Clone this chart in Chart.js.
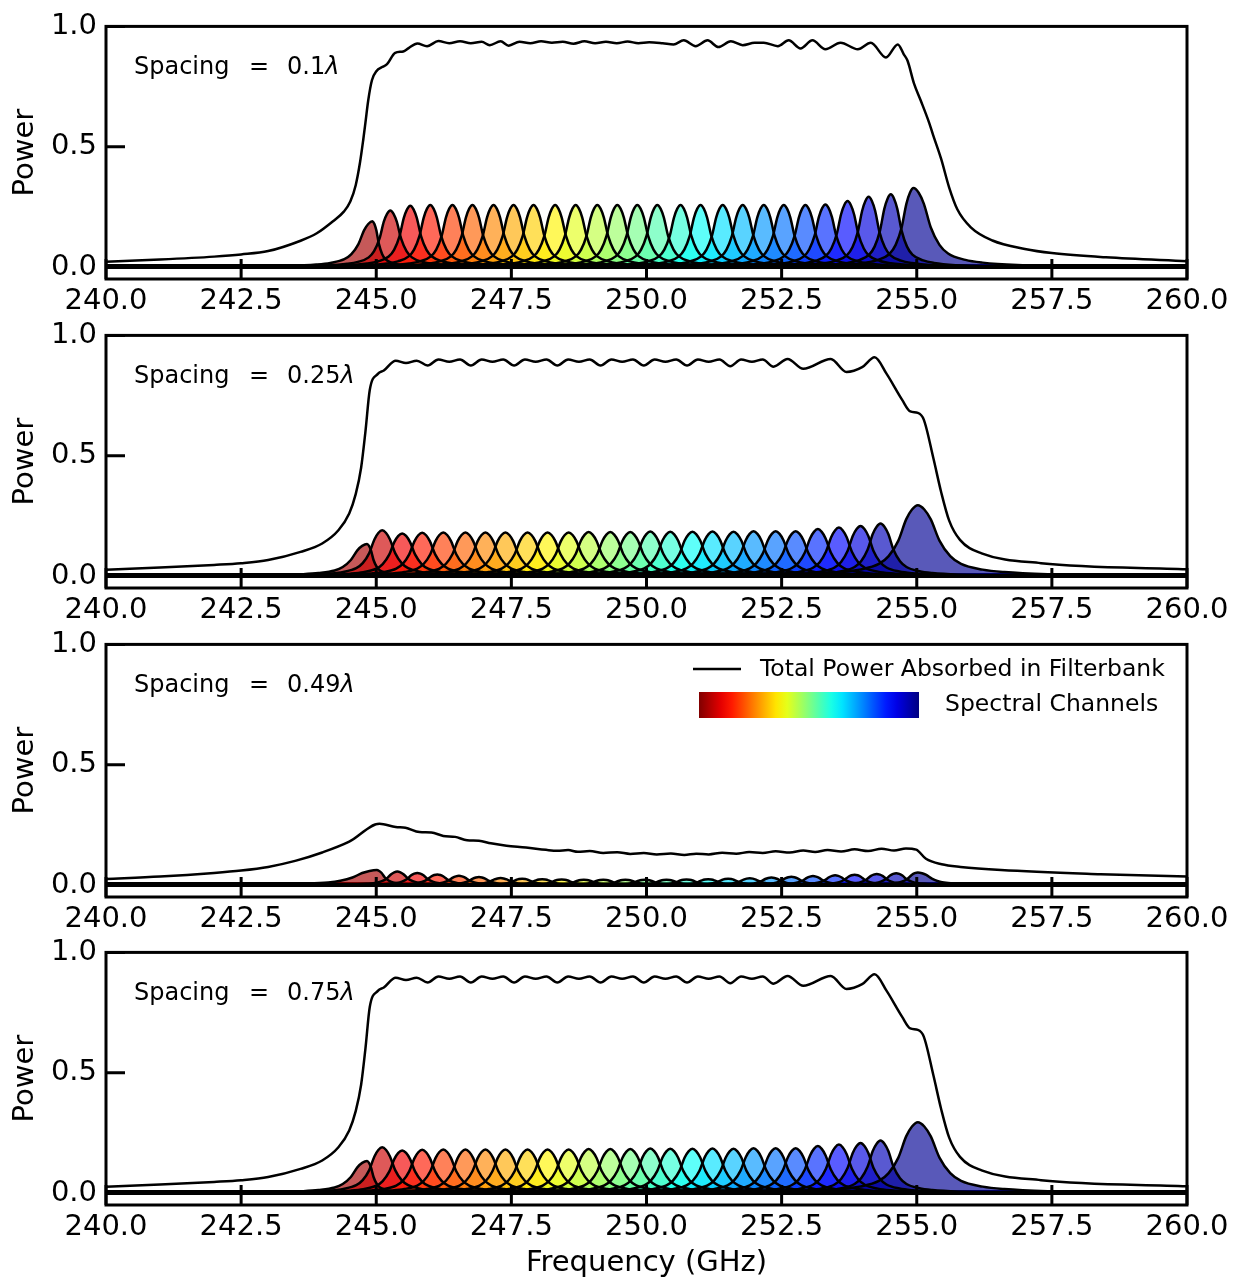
<!DOCTYPE html>
<html>
<head>
<meta charset="utf-8">
<script src="https://cdn.jsdelivr.net/npm/chart.js@4.4.1/dist/chart.umd.min.js"></script>
<style>
  html, body { margin: 0; padding: 0; background: #fff; }
  #wrap { position: relative; width: 1241px; height: 1281px; }
  canvas { position: absolute; left: 0; }
</style>
</head>
<body>
<div id="wrap">
  <canvas id="c0" width="1241" height="329" style="top:0px"></canvas>
  <canvas id="c1" width="1241" height="329" style="top:309px"></canvas>
  <canvas id="c2" width="1241" height="329" style="top:618px"></canvas>
  <canvas id="c3" width="1241" height="355" style="top:926px"></canvas>
</div>
<script>
// axis ticks
const xTickValues = [240, 242.5, 245, 247.5, 250, 252.5, 255, 257.5, 260];
const yTickValues = [0, 0.5, 1.0];
const spacingLabels = ['0.1', '0.25', '0.49', '0.75'];

// shape of one channel response, offsets in half-widths and relative level
const profileOffsets = [-120, -40, -20, -10, -6, -4, -3, -2, -1.5, -1, -0.6, -0.3, 0, 0.3, 0.6, 1, 1.5, 2, 3, 4, 6, 10, 20, 40, 120];
const profileLevels = [0.0001, 0.0006, 0.0025, 0.009, 0.025, 0.055, 0.09, 0.17, 0.28, 0.5, 0.8, 0.94, 1, 0.94, 0.8, 0.5, 0.28, 0.17, 0.09, 0.055, 0.025, 0.009, 0.0025, 0.0006, 0.0001];

// spacing 0.1 lambda
const p1Centers = [244.93, 245.26, 245.63, 246.00, 246.41, 246.78, 247.17, 247.54, 247.91, 248.31, 248.69, 249.09, 249.46, 249.83, 250.20, 250.63, 251.00, 251.41, 251.78, 252.17, 252.54, 252.94, 253.31, 253.72, 254.11, 254.52, 254.94];
const p1Heights = [0.19, 0.235, 0.255, 0.258, 0.258, 0.258, 0.258, 0.258, 0.258, 0.258, 0.258, 0.258, 0.258, 0.258, 0.258, 0.258, 0.258, 0.258, 0.258, 0.258, 0.258, 0.258, 0.26, 0.274, 0.292, 0.302, 0.328];
const p1WidthL = [0.26, 0.2, 0.2, 0.2, 0.2, 0.2, 0.2, 0.2, 0.2, 0.2, 0.2, 0.2, 0.2, 0.2, 0.2, 0.2, 0.2, 0.2, 0.2, 0.2, 0.2, 0.2, 0.2, 0.2, 0.2, 0.2, 0.22];
const p1WidthR = [0.12, 0.2, 0.2, 0.2, 0.2, 0.2, 0.2, 0.2, 0.2, 0.2, 0.2, 0.2, 0.2, 0.2, 0.2, 0.2, 0.2, 0.2, 0.2, 0.2, 0.2, 0.2, 0.2, 0.2, 0.2, 0.2, 0.32];
const p1TotalX = [240.0, 241.0, 242.0, 242.5, 243.0, 243.6, 243.9, 244.2, 244.4, 244.52, 244.62, 244.7, 244.76, 244.8, 244.85, 244.92, 245.01, 245.1, 245.2, 245.35, 245.5, 245.6, 245.76, 245.94, 246.15, 246.35, 246.55, 246.75, 246.95, 247.1, 247.3, 247.45, 247.65, 247.85, 248.05, 248.25, 248.45, 248.65, 248.85, 249.05, 249.25, 249.45, 249.65, 249.85, 250.05, 250.3, 250.5, 250.69, 250.91, 251.13, 251.33, 251.56, 251.78, 252.0, 252.17, 252.43, 252.63, 252.85, 253.07, 253.31, 253.59, 253.91, 254.15, 254.43, 254.65, 254.76, 254.83, 254.95, 255.07, 255.23, 255.3, 255.45, 255.6, 255.75, 256.0, 256.4, 257.0, 257.5, 258.5, 260.0];
const p1TotalY = [0.022, 0.031, 0.043, 0.052, 0.066, 0.109, 0.14, 0.19, 0.23, 0.272, 0.34, 0.435, 0.53, 0.6, 0.69, 0.776, 0.816, 0.83, 0.843, 0.89, 0.896, 0.91, 0.929, 0.918, 0.939, 0.930, 0.938, 0.93, 0.936, 0.922, 0.938, 0.92, 0.936, 0.93, 0.938, 0.932, 0.936, 0.928, 0.938, 0.93, 0.936, 0.93, 0.937, 0.93, 0.934, 0.93, 0.925, 0.942, 0.918, 0.942, 0.914, 0.938, 0.922, 0.932, 0.932, 0.918, 0.942, 0.908, 0.942, 0.905, 0.932, 0.905, 0.932, 0.871, 0.925, 0.884, 0.857, 0.762, 0.694, 0.599, 0.55, 0.45, 0.33, 0.24, 0.165, 0.11, 0.075, 0.058, 0.04, 0.024];

// spacing 0.25 lambda
const p2Centers = [244.83, 245.11, 245.48, 245.85, 246.24, 246.65, 247.02, 247.39, 247.80, 248.17, 248.56, 248.93, 249.33, 249.70, 250.07, 250.44, 250.85, 251.22, 251.61, 251.98, 252.39, 252.76, 253.17, 253.56, 253.96, 254.33, 255.02];
const p2Heights = [0.133, 0.19, 0.177, 0.18, 0.181, 0.181, 0.181, 0.181, 0.181, 0.181, 0.181, 0.183, 0.183, 0.183, 0.185, 0.184, 0.184, 0.185, 0.184, 0.186, 0.186, 0.186, 0.195, 0.201, 0.208, 0.218, 0.294];
const p2WidthL = [0.3, 0.24, 0.24, 0.24, 0.24, 0.24, 0.24, 0.24, 0.24, 0.24, 0.24, 0.24, 0.24, 0.24, 0.24, 0.24, 0.24, 0.24, 0.24, 0.24, 0.24, 0.24, 0.24, 0.24, 0.24, 0.24, 0.36];
const p2WidthR = [0.12, 0.24, 0.24, 0.24, 0.24, 0.24, 0.24, 0.24, 0.24, 0.24, 0.24, 0.24, 0.24, 0.24, 0.24, 0.24, 0.24, 0.24, 0.24, 0.24, 0.24, 0.24, 0.24, 0.24, 0.24, 0.24, 0.4];
const p2TotalX = [240.0, 241.0, 242.0, 242.5, 243.0, 243.6, 244.0, 244.3, 244.5, 244.62, 244.72, 244.8, 244.88, 245.03, 245.14, 245.36, 245.55, 245.75, 245.95, 246.15, 246.35, 246.55, 246.75, 246.95, 247.15, 247.35, 247.55, 247.75, 247.95, 248.15, 248.35, 248.55, 248.75, 248.95, 249.15, 249.35, 249.55, 249.75, 249.95, 250.15, 250.35, 250.55, 250.75, 250.95, 251.15, 251.35, 251.55, 251.75, 251.95, 252.15, 252.35, 252.61, 252.9, 253.41, 253.70, 253.99, 254.22, 254.44, 254.73, 254.88, 255.02, 255.13, 255.31, 255.45, 255.6, 255.8, 256.2, 257.3, 260.0];
const p2TotalY = [0.026, 0.035, 0.046, 0.053, 0.066, 0.1, 0.135, 0.19, 0.26, 0.34, 0.45, 0.6, 0.773, 0.84, 0.854, 0.895, 0.885, 0.895, 0.875, 0.9, 0.89, 0.9, 0.875, 0.9, 0.89, 0.9, 0.875, 0.9, 0.89, 0.9, 0.875, 0.9, 0.89, 0.9, 0.875, 0.9, 0.89, 0.9, 0.875, 0.9, 0.89, 0.9, 0.875, 0.9, 0.89, 0.9, 0.872, 0.9, 0.89, 0.9, 0.87, 0.902, 0.861, 0.902, 0.848, 0.868, 0.909, 0.841, 0.732, 0.684, 0.678, 0.65, 0.487, 0.35, 0.23, 0.15, 0.094, 0.053, 0.028];

// spacing 0.49 lambda
const p3Centers = [245.01, 245.39, 245.76, 246.13, 246.53, 246.90, 247.30, 247.70, 248.07, 248.43, 248.84, 249.20, 249.61, 249.97, 250.37, 250.74, 251.14, 251.51, 251.91, 252.31, 252.68, 253.08, 253.49, 253.85, 254.26, 254.62, 255.02];
const p3Heights = [0.062, 0.056, 0.05, 0.044, 0.038, 0.033, 0.029, 0.026, 0.024, 0.023, 0.022, 0.022, 0.022, 0.022, 0.022, 0.023, 0.024, 0.026, 0.028, 0.031, 0.034, 0.037, 0.04, 0.043, 0.046, 0.049, 0.052];
const p3WidthL = [0.45, 0.19, 0.19, 0.19, 0.19, 0.19, 0.19, 0.19, 0.19, 0.19, 0.19, 0.19, 0.19, 0.19, 0.19, 0.19, 0.19, 0.19, 0.19, 0.19, 0.19, 0.19, 0.19, 0.19, 0.19, 0.19, 0.19];
const p3WidthR = [0.15, 0.19, 0.19, 0.19, 0.19, 0.19, 0.19, 0.19, 0.19, 0.19, 0.19, 0.19, 0.19, 0.19, 0.19, 0.19, 0.19, 0.19, 0.19, 0.19, 0.19, 0.19, 0.19, 0.19, 0.19, 0.19, 0.26];
const p3TotalX = [240.0, 241.0, 242.0, 242.5, 243.0, 243.5, 244.0, 244.5, 245.06, 245.36, 245.54, 245.8, 246.02, 246.24, 246.46, 246.68, 246.9, 247.12, 247.41, 247.77, 248.14, 248.35, 248.55, 248.73, 248.95, 249.2, 249.46, 249.7, 249.95, 250.19, 250.45, 250.7, 250.92, 251.15, 251.4, 251.66, 251.9, 252.15, 252.39, 252.65, 252.9, 253.12, 253.35, 253.6, 253.85, 254.1, 254.35, 254.58, 254.8, 254.99, 255.17, 255.46, 255.81, 256.56, 258.4, 260.0];
const p3TotalY = [0.025, 0.035, 0.05, 0.06, 0.075, 0.1, 0.135, 0.18, 0.254, 0.241, 0.238, 0.22, 0.218, 0.204, 0.2, 0.186, 0.184, 0.173, 0.163, 0.156, 0.146, 0.142, 0.145, 0.138, 0.141, 0.133, 0.136, 0.129, 0.133, 0.127, 0.131, 0.125, 0.13, 0.127, 0.134, 0.13, 0.137, 0.133, 0.14, 0.135, 0.143, 0.137, 0.145, 0.139, 0.148, 0.141, 0.151, 0.143, 0.152, 0.147, 0.109, 0.086, 0.075, 0.062, 0.045, 0.035];

// spacing 0.75 lambda gives the same response as 0.25 lambda
const p4Centers = p2Centers;
const p4Heights = p2Heights;
const p4WidthL = p2WidthL;
const p4WidthR = p2WidthR;
const p4TotalX = p2TotalX;
const p4TotalY = p2TotalY;

const panels = [
  { centers: p1Centers, heights: p1Heights, wl: p1WidthL, wr: p1WidthR, tx: p1TotalX, ty: p1TotalY },
  { centers: p2Centers, heights: p2Heights, wl: p2WidthL, wr: p2WidthR, tx: p2TotalX, ty: p2TotalY },
  { centers: p3Centers, heights: p3Heights, wl: p3WidthL, wr: p3WidthR, tx: p3TotalX, ty: p3TotalY },
  { centers: p4Centers, heights: p4Heights, wl: p4WidthL, wr: p4WidthR, tx: p4TotalX, ty: p4TotalY }
];

const FONT = "'DejaVu Sans', sans-serif";
Chart.defaults.font.family = FONT;
Chart.defaults.color = '#000';

// matplotlib jet colormap
function jet(t) {
  const c = v => Math.max(0, Math.min(1, v));
  return [c(1.5 - Math.abs(4 * t - 3)), c(1.5 - Math.abs(4 * t - 2)), c(1.5 - Math.abs(4 * t - 1))].map(v => Math.round(v * 255));
}
function rgba(t, a) {
  const [r, g, b] = jet(t);
  return 'rgba(' + r + ',' + g + ',' + b + ',' + a + ')';
}

function channelPoints(c, h, wl, wr) {
  return profileOffsets.map((u, i) => ({ x: c + u * (u < 0 ? wl : wr), y: h * profileLevels[i] }));
}

const decor = {
  id: 'decor',
  afterDraw(chart, args, opts) {
    const { ctx, chartArea: a, scales } = chart;
    const top = opts.canvasTop;
    ctx.save();
    ctx.strokeStyle = '#000';
    ctx.lineWidth = 3;
    ctx.strokeRect(a.left, a.top, a.right - a.left, a.bottom - a.top);
    ctx.beginPath();
    xTickValues.forEach(v => {
      const px = scales.x.getPixelForValue(v);
      ctx.moveTo(px, a.bottom);
      ctx.lineTo(px, a.bottom - 20);
    });
    yTickValues.forEach(v => {
      const py = scales.y.getPixelForValue(v);
      ctx.moveTo(a.left, py);
      ctx.lineTo(a.left + 19, py);
    });
    ctx.stroke();

    ctx.fillStyle = '#000';
    ctx.textBaseline = 'middle';
    ctx.font = '24px ' + FONT;
    const ty = a.top + 41;
    ctx.textAlign = 'left';
    ctx.fillText('Spacing', 134, ty);
    ctx.textAlign = 'center';
    ctx.fillText('=', 259, ty);
    ctx.textAlign = 'left';
    ctx.fillText(opts.label, 287, ty);
    const w = ctx.measureText(opts.label).width;
    ctx.font = 'italic 24px ' + FONT;
    ctx.fillText('\u03bb', 287 + w, ty);

    if (opts.legend) {
      ctx.font = '23.5px ' + FONT;
      ctx.lineWidth = 2.5;
      ctx.beginPath();
      ctx.moveTo(693, 669 - top);
      ctx.lineTo(741, 669 - top);
      ctx.stroke();
      ctx.fillText('Total Power Absorbed in Filterbank', 760, 670 - top);
      const g = ctx.createLinearGradient(699, 0, 919, 0);
      for (let i = 0; i <= 20; i++) g.addColorStop(i / 20, rgba(1 - i / 20, 1));
      ctx.fillStyle = g;
      ctx.fillRect(699, 692 - top, 220, 26);
      ctx.fillStyle = '#000';
      ctx.fillText('Spectral Channels', 945, 705 - top);
    }
    ctx.restore();
  }
};

panels.forEach((p, i) => {
  const canvas = document.getElementById('c' + i);
  const canvasTop = parseFloat(canvas.style.top);
  const last = i === panels.length - 1;
  const n = p.centers.length;
  const datasets = p.centers.map((c, k) => ({
    data: channelPoints(c, p.heights[k], p.wl[k], p.wr[k]),
    fill: 'origin',
    backgroundColor: rgba(0.96 - k * 0.94 / (n - 1), 0.65),
    borderColor: '#000',
    borderWidth: 2.5,
    pointRadius: 0,
    cubicInterpolationMode: 'monotone',
    order: n - k
  }));
  datasets.push({
    data: p.tx.map((x, k) => ({ x: x, y: p.ty[k] })),
    fill: false,
    borderColor: '#000',
    borderWidth: 2.5,
    pointRadius: 0,
    cubicInterpolationMode: 'monotone',
    order: -1
  });

  new Chart(canvas, {
    type: 'line',
    data: { datasets: datasets },
    plugins: [decor],
    options: {
      responsive: false,
      animation: false,
      devicePixelRatio: 1,
      layout: { padding: { left: 0, right: 54, top: 22, bottom: 0 } },
      plugins: {
        legend: { display: false },
        tooltip: { enabled: false },
        filler: { drawTime: 'beforeDatasetsDraw' },
        decor: { label: spacingLabels[i], legend: i === 2, canvasTop: canvasTop }
      },
      scales: {
        x: {
          type: 'linear',
          min: 240,
          max: 260,
          afterBuildTicks: s => { s.ticks = xTickValues.map(v => ({ value: v })); },
          afterFit: s => { s.height = canvas.height - 22 - 257; },
          ticks: {
            callback: v => v.toFixed(1),
            font: { size: 29 },
            padding: 5,
            autoSkip: false,
            maxRotation: 0
          },
          grid: { display: false, drawTicks: false },
          border: { display: false },
          title: {
            display: last,
            text: 'Frequency (GHz)',
            font: { size: 29 },
            padding: { top: 0, bottom: 0 }
          }
        },
        y: {
          min: -0.05,
          max: 1.0,
          afterBuildTicks: s => { s.ticks = yTickValues.map(v => ({ value: v })); },
          afterFit: s => { s.width = 106; },
          ticks: {
            callback: v => v.toFixed(1),
            font: { size: 29 },
            padding: 9
          },
          grid: {
            drawTicks: false,
            color: c => (c.tick && c.tick.value === 0 ? '#000' : 'rgba(0,0,0,0)'),
            lineWidth: c => (c.tick && c.tick.value === 0 ? 5 : 0)
          },
          border: { display: false },
          title: {
            display: true,
            text: 'Power',
            font: { size: 29 },
            padding: { top: 8, bottom: 0 }
          }
        }
      }
    }
  });
});
</script>
</body>
</html>
